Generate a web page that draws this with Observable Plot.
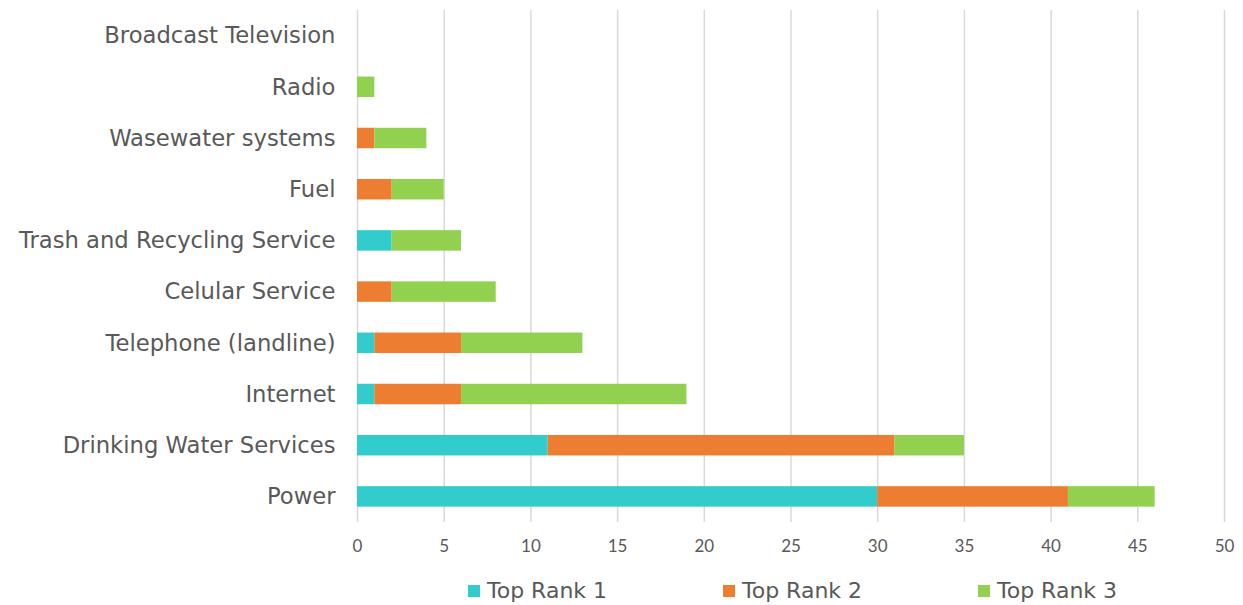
<!DOCTYPE html>
<html>
<head>
<meta charset="utf-8">
<script src="https://cdn.jsdelivr.net/npm/d3@7"></script>
<script src="https://cdn.jsdelivr.net/npm/@observablehq/plot@0.6"></script>
<style>
  body { margin: 0; background: #fff; font-family: "DejaVu Sans", sans-serif; }
  #legend { position: relative; height: 40px; width: 1243px; }
  .item { position: absolute; top: 13px; display: flex; align-items: center; font-size: 22px; color: #595959; line-height: normal; }
  .sw { width: 12px; height: 12px; margin-right: 7px; }
</style>
</head>
<body>
<div id="chart"></div>
<div id="legend"></div>
<script>
const categories = ["Broadcast Television", "Radio", "Wasewater systems", "Fuel", "Trash and Recycling Service", "Celular Service", "Telephone (landline)", "Internet", "Drinking Water Services", "Power"];
const series = ["Top Rank 1", "Top Rank 2", "Top Rank 3"];
const rank1 = [0, 0, 0, 0, 2, 0, 1, 1, 11, 30];
const rank2 = [0, 0, 1, 2, 0, 2, 5, 5, 20, 11];
const rank3 = [0, 1, 3, 3, 4, 6, 7, 13, 4, 5];
const colors = ["#33CCCC", "#ED7D31", "#92D050"];
const xTicks = [0, 5, 10, 15, 20, 25, 30, 35, 40, 45, 50];

const values = [rank1, rank2, rank3];
const data = [];
series.forEach((s, si) => categories.forEach((c, ci) => data.push({category: c, series: s, value: values[si][ci]})));

const chart = Plot.plot({
  width: 1243,
  height: 565,
  marginTop: 10,
  marginBottom: 43,
  marginLeft: 357,
  marginRight: 19,
  style: {fontFamily: "'DejaVu Sans', sans-serif", color: "#595959", background: "#fff"},
  x: {domain: [0, 50], ticks: xTicks, tickSize: 0, label: null},
  y: {domain: categories, paddingInner: 0.6, paddingOuter: 0.3, round: false, label: null, tickSize: 0},
  color: {domain: series, range: colors},
  marks: [
    Plot.gridX(xTicks, {stroke: "#d9d9d9", strokeOpacity: 1, strokeWidth: 1.5}),
    Plot.barX(data, Plot.stackX({x: "value", y: "category", fill: "series", order: series})),
    Plot.axisX({ticks: xTicks, tickSize: 0, tickPadding: 17, fontSize: 17, fontFamily: "Lato, sans-serif", label: null}),
    Plot.axisY({tickSize: 0, tickPadding: 22, fontSize: 22.7, label: null})
  ]
});
document.getElementById("chart").appendChild(chart);

const legend = document.getElementById("legend");
const lx = [468, 723, 978];
series.forEach((s, i) => {
  const it = document.createElement("div");
  it.className = "item";
  it.style.left = lx[i] + "px";
  it.innerHTML = `<div class="sw" style="background:${colors[i]}"></div><span>${s}</span>`;
  legend.appendChild(it);
});
</script>
</body>
</html>
